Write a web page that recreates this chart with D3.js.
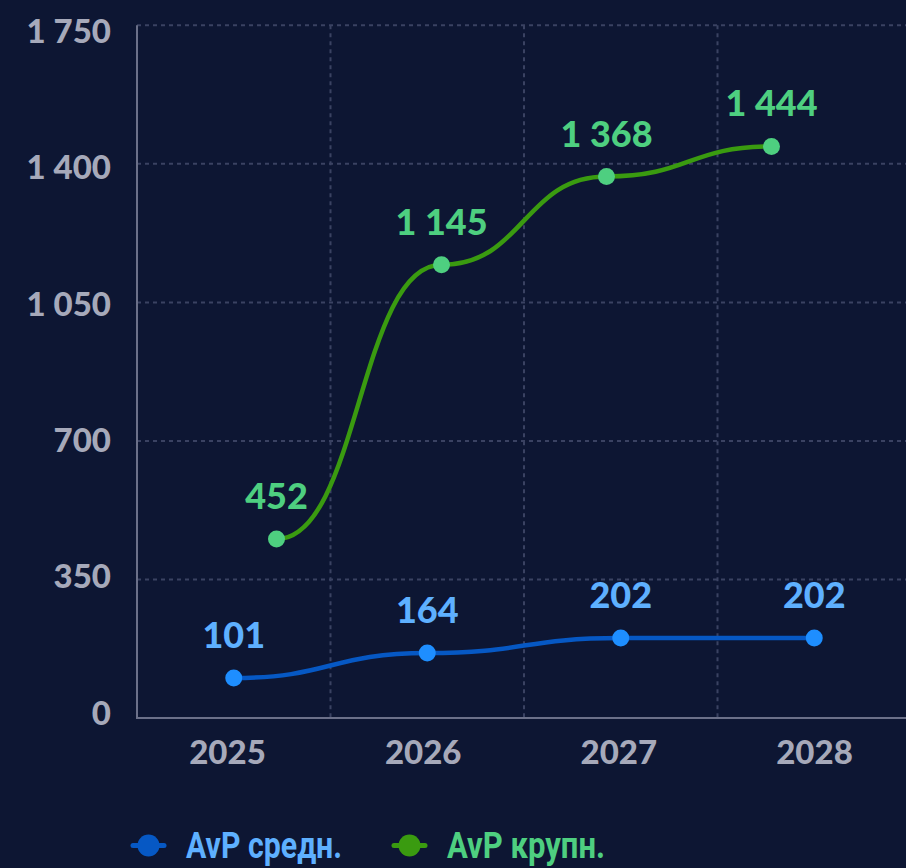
<!DOCTYPE html>
<html>
<head>
<meta charset="utf-8">
<script src="https://cdn.jsdelivr.net/npm/d3@7/dist/d3.min.js"></script>
<style>
  html, body { margin: 0; padding: 0; background: #0d1633; }
  svg { display: block; }
</style>
</head>
<body>
<script>
// ---- data ----
const years = ["2025", "2026", "2027", "2028"];
const avpMid = [101, 164, 202, 202];
const avpLarge = [452, 1145, 1368, 1444];
const yTicks = [0, 350, 700, 1050, 1400, 1750];
const seriesNames = ["AvP средн.", "AvP крупн."];

const W = 906, H = 868;
const numFont = "Lato, 'Open Sans', sans-serif";
const legendFont = "Roboto, 'Noto Sans', sans-serif";
const fmt = d3.formatLocale({ decimal: ",", thousands: " ", grouping: [3], currency: ["", ""] }).format(",d");

const svg = d3.select("body").append("svg").attr("width", W).attr("height", H);
svg.append("rect").attr("width", W).attr("height", H).attr("fill", "#0d1633");

// ---- scales ----
const x = d3.scaleBand().domain(years).range([137, 911]);
const xLarge = d3.scalePoint().domain(years).range([137, 911]).padding(0.8455);
const xLab = d3.scalePoint().domain(years).range([227.5, 814.5]);
const y = d3.scaleLinear().domain([0, 1750]).range([718, 25.3]);
const yLab = d3.scaleLinear().domain([0, 1750]).range([724.5, 43]);

const gridColor = "#3a4262";
const axisColor = "#6b7089";

// horizontal gridlines
svg.append("g").selectAll("line").data(yTicks.filter(d => d > 0)).join("line")
  .attr("x1", 137).attr("x2", W)
  .attr("y1", d => y(d)).attr("y2", d => y(d))
  .attr("stroke", gridColor).attr("stroke-width", 2).attr("stroke-dasharray", "4,4");

// vertical gridlines at band boundaries
svg.append("g").selectAll("line").data(years.slice(1)).join("line")
  .attr("x1", d => x(d)).attr("x2", d => x(d))
  .attr("y1", y(1750)).attr("y2", y(0))
  .attr("stroke", gridColor).attr("stroke-width", 2).attr("stroke-dasharray", "4,4");

// axes lines
svg.append("line").attr("x1", 137).attr("x2", 137).attr("y1", y(1750)).attr("y2", y(0) + 1)
  .attr("stroke", axisColor).attr("stroke-width", 2);
svg.append("line").attr("x1", 136).attr("x2", W).attr("y1", y(0)).attr("y2", y(0))
  .attr("stroke", axisColor).attr("stroke-width", 2);

// y tick labels
svg.append("g").selectAll("text").data(yTicks).join("text")
  .attr("x", 111).attr("y", d => yLab(d))
  .attr("text-anchor", "end")
  .attr("font-family", numFont).attr("font-weight", 900).attr("font-size", 33)
  .attr("fill", "#a6a9ba")
  .text(d => fmt(d));

// x tick labels
svg.append("g").selectAll("text").data(years).join("text")
  .attr("x", d => xLab(d)).attr("y", 764)
  .attr("text-anchor", "middle")
  .attr("font-family", numFont).attr("font-weight", 900).attr("font-size", 33)
  .attr("fill", "#a6a9ba")
  .text(d => d);

// ---- series ----
const midPts = years.map((yr, i) => [x(yr) + x.bandwidth() / 2, y(avpMid[i]), avpMid[i]]);
const largePts = years.map((yr, i) => [xLarge(yr), y(avpLarge[i]), avpLarge[i]]);

const line = d3.line().x(d => d[0]).y(d => d[1]).curve(d3.curveBumpX);

const series = [
  { pts: midPts, line: "#0658c4", dot: "#1e8eff", label: "#5eb0ff" },
  { pts: largePts, line: "#3a9b10", dot: "#4ecf80", label: "#4ecf80" }
];

series.forEach(s => {
  svg.append("path").attr("d", line(s.pts))
    .attr("fill", "none").attr("stroke", s.line).attr("stroke-width", 4.5)
    .attr("stroke-linecap", "round");
});
series.forEach(s => {
  svg.append("g").selectAll("circle").data(s.pts).join("circle")
    .attr("cx", d => d[0]).attr("cy", d => d[1]).attr("r", 8.5)
    .attr("fill", s.dot);
  svg.append("g").selectAll("text").data(s.pts).join("text")
    .attr("x", d => d[0]).attr("y", d => d[1] - 30)
    .attr("text-anchor", "middle")
    .attr("font-family", numFont).attr("font-weight", 900).attr("font-size", 36)
    .attr("fill", s.label)
    .text(d => fmt(d[2]));
});

// ---- legend ----
const legend = [
  { name: seriesNames[0], sym: "#0658c4", text: "#5eb0ff", x0: 133, w: 156 },
  { name: seriesNames[1], sym: "#3a9b10", text: "#4ecf80", x0: 394, w: 158 }
];
const lg = svg.append("g");
legend.forEach(l => {
  lg.append("line").attr("x1", l.x0).attr("x2", l.x0 + 31)
    .attr("y1", 845.5).attr("y2", 845.5)
    .attr("stroke", l.sym).attr("stroke-width", 5).attr("stroke-linecap", "round");
  lg.append("circle").attr("cx", l.x0 + 15.5).attr("cy", 845.5).attr("r", 11).attr("fill", l.sym);
  lg.append("text").attr("x", l.x0 + 53).attr("y", 858)
    .attr("font-family", legendFont).attr("font-weight", 700).attr("font-size", 37)
    .attr("textLength", l.w).attr("lengthAdjust", "spacingAndGlyphs")
    .attr("fill", l.text)
    .text(l.name);
});
</script>
</body>
</html>
